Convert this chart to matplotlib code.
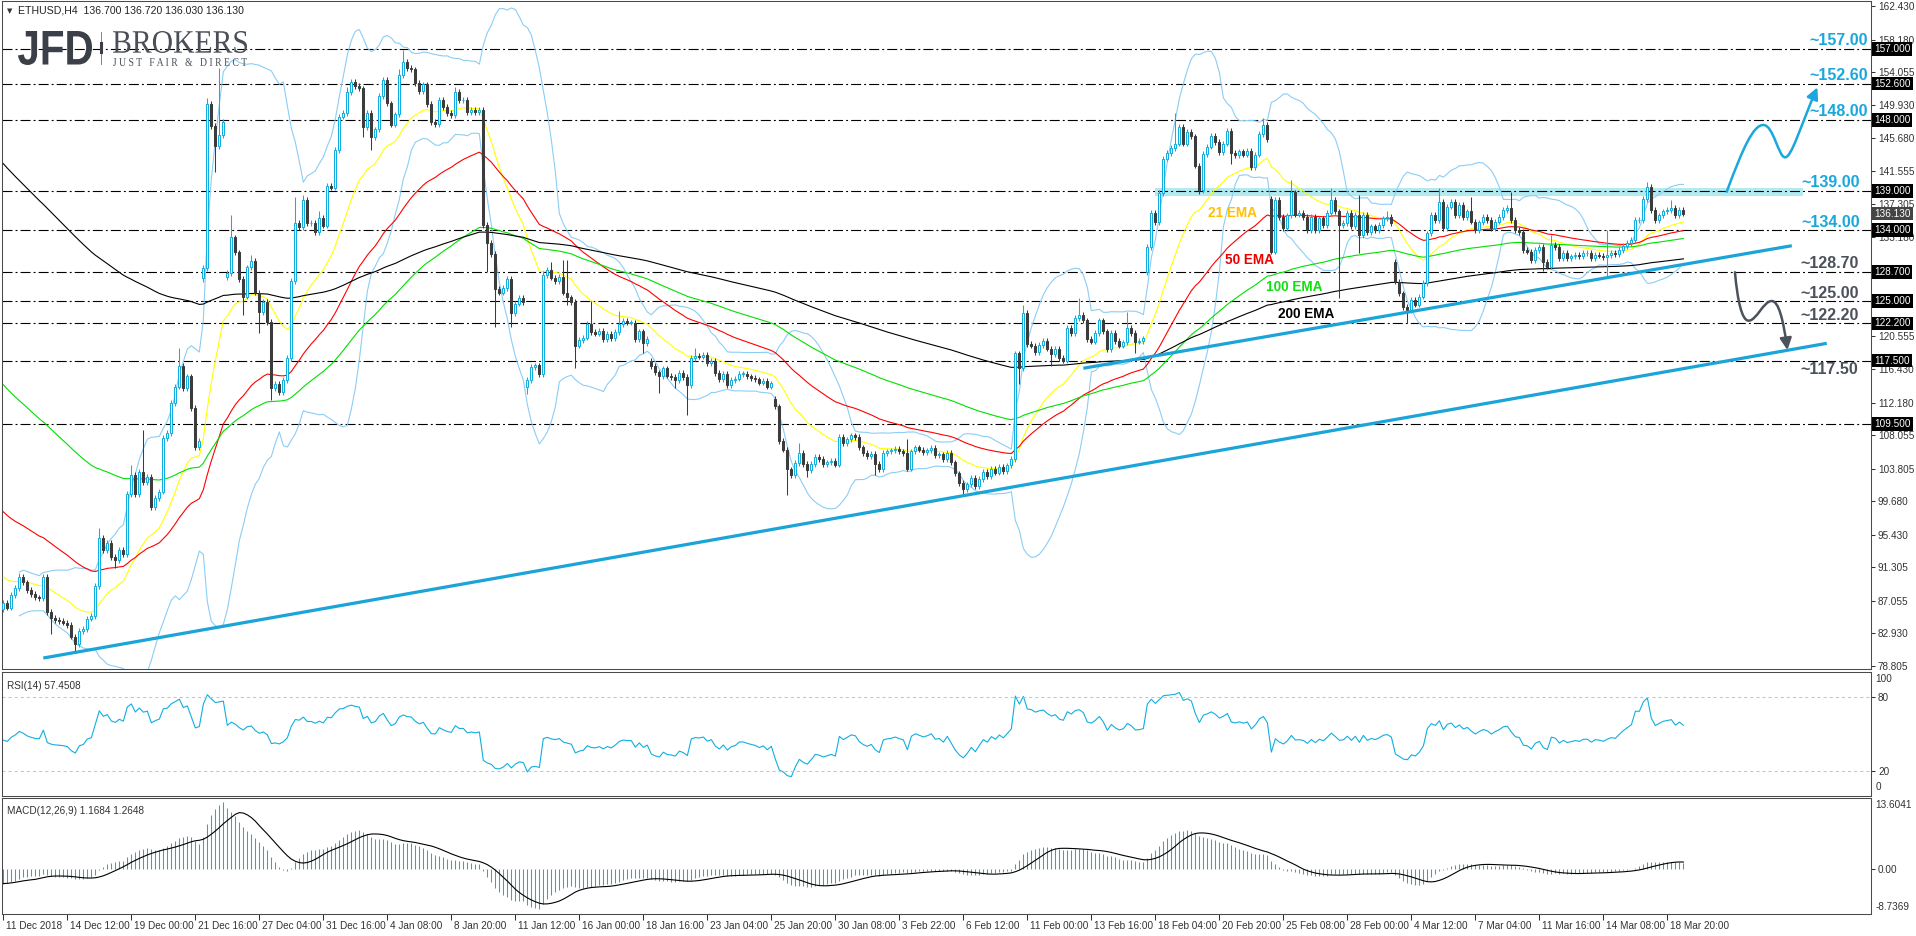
import numpy as np
import pandas as pd
import matplotlib
matplotlib.use("Agg")
import matplotlib.pyplot as plt
from matplotlib.path import Path
from matplotlib.patches import FancyArrowPatch, PathPatch
from matplotlib.textpath import TextPath
from matplotlib.font_manager import FontProperties
from matplotlib.transforms import Affine2D, ScaledTranslation
from matplotlib.lines import Line2D

W, H = 1916, 936

# ETHUSD H4 closes from left to right
closes = [
    86.8, 86.2, 87.8, 88.7, 90.1, 89.4, 88.4, 87.9, 87.5, 87.4,
    90.1, 85.6, 84.9, 84.6, 84.5, 84.3, 84.0, 82.5, 81.6, 83.2,
    83.5, 84.8, 85.1, 88.9, 95.0, 93.5, 94.4, 92.6, 92.2, 93.5,
    93.0, 100.6, 103.0, 100.6, 103.4, 102.1, 102.8, 98.9, 100.1, 100.9,
    107.7, 108.3, 112.1, 114.2, 116.8, 114.0, 115.5, 111.5, 106.5, 107.3,
    129.2, 150.0, 147.2, 144.7, 146.1, 147.7, 128.6, 133.1, 131.2, 127.8,
    125.6, 129.3, 130.1, 126.1, 123.6, 124.9, 122.4, 114.0, 114.5, 113.5,
    115.0, 117.8, 127.6, 134.9, 134.4, 137.9, 134.9, 134.9, 133.8, 135.6,
    134.6, 139.6, 139.4, 144.2, 148.4, 148.9, 151.5, 152.8, 152.3, 152.0,
    147.1, 148.9, 145.8, 146.8, 151.0, 153.1, 150.1, 147.4, 148.7, 153.7,
    155.3, 154.6, 154.4, 152.7, 151.6, 152.5, 150.0, 147.7, 147.5, 150.5,
    149.6, 148.9, 148.6, 151.5, 150.5, 150.5, 149.0, 149.3, 149.0, 149.3,
    134.7, 132.4, 131.0, 126.6, 126.1, 126.7, 127.8, 123.5, 124.7, 125.4,
    124.9, 115.0, 116.7, 116.9, 115.8, 128.3, 129.0, 128.0, 127.6, 128.1,
    126.1, 125.5, 124.9, 119.4, 120.1, 120.4, 122.1, 121.1, 120.9, 121.3,
    120.2, 120.9, 120.3, 121.1, 122.1, 122.5, 122.3, 122.3, 120.2, 121.2,
    119.7, 120.2, 116.8, 116.0, 115.5, 116.5, 115.6, 115.4, 115.0, 115.9,
    115.4, 114.4, 117.8, 118.1, 118.0, 118.2, 117.2, 117.5, 115.9, 115.1,
    115.8, 114.4, 115.0, 115.2, 115.8, 115.8, 115.5, 115.3, 115.1, 114.7,
    114.9, 114.2, 114.6, 111.7, 107.3, 106.2, 103.7, 103.0, 104.5, 105.8,
    104.4, 103.6, 104.4, 105.3, 105.0, 104.4, 104.6, 104.8, 104.3, 107.8,
    107.0, 107.5, 108.0, 107.8, 106.5, 105.8, 105.4, 105.7, 104.4, 103.7,
    105.8, 106.0, 106.1, 106.3, 106.0, 105.8, 103.8, 106.0, 106.5, 106.2,
    105.9, 106.1, 106.4, 105.5, 105.6, 105.0, 105.8, 104.6, 103.2, 102.0,
    101.2, 101.8, 102.6, 101.6, 102.5, 103.4, 102.9, 103.8, 103.3, 104.0,
    103.5, 104.2, 105.0, 118.4, 116.5, 123.5, 119.6, 119.4, 118.6, 119.5,
    120.0, 119.0, 118.3, 119.0, 117.8, 117.5, 121.6, 121.0, 122.9, 123.3,
    122.6, 120.2, 119.9, 121.0, 122.6, 121.2, 118.9, 121.0, 120.0, 119.4,
    119.8, 121.6, 121.0, 119.9, 120.0, 120.3, 131.9, 136.2, 135.0, 138.7,
    143.1, 143.8, 144.4, 145.0, 147.1, 145.0, 146.5, 145.9, 142.2, 139.1,
    143.7, 144.6, 146.0, 145.2, 143.9, 145.0, 146.6, 143.8, 143.5, 144.0,
    143.6, 144.1, 142.0, 143.6, 146.2, 147.4, 145.6, 131.3, 137.9, 135.7,
    134.3, 135.9, 138.8, 136.0, 136.2, 135.7, 134.05, 135.7, 134.05, 135.5,
    134.7, 136.2, 137.9, 136.4, 134.7, 134.9, 136.2, 134.5, 135.95, 133.4,
    135.95, 133.8, 134.5, 134.05, 134.7, 135.5, 135.7, 134.9, 127.5, 126.0,
    124.3, 123.9, 125.2, 124.6, 125.6, 127.3, 133.6, 135.95, 135.3, 137.6,
    134.3, 137.0, 137.6, 135.95, 137.2, 135.7, 136.4, 135.1, 134.05, 135.0,
    135.7, 135.3, 134.3, 135.1, 135.7, 136.6, 136.8, 135.3, 134.05, 133.8,
    131.5, 131.3, 130.25, 131.5, 131.9, 130.0, 129.4, 132.2, 131.9, 130.5,
    131.1, 130.5, 130.7, 130.9, 130.7, 131.1, 131.1, 130.5, 130.9, 130.8,
    130.6, 130.9, 131.1, 131.0, 131.5, 132.0, 132.4, 132.8, 135.3, 135.3,
    138.0, 139.5, 136.6, 135.3, 135.9, 136.4, 136.6, 136.8, 135.95, 136.6,
    136.13,
]
# bars whose open is not the previous close (weekend / holiday gaps)
gap_opens = {0: 86.0, 50: 128.0, 56: 128.1, 131: 114.2, 162: 117.5, 193: 112.6,
             286: 128.7, 317: 138.0, 348: 130.0}
# wick lengths beyond the body (price units); other bars have a short wick
wick_hi = {2: 0.4, 4: 0.5, 24: 1.3, 32: 1.3, 35: 5.3, 44: 2.3, 51: 0.8, 54: 8.5,
           57: 2.8, 62: 0.8, 73: 3.3, 75: 0.6, 79: 0.8, 86: 0.6, 99: 0.8, 100: 1.6,
           113: 0.6, 135: 0.6, 137: 1.0, 140: 2.2, 141: 4.1, 147: 2.9, 154: 1.7,
           173: 1.0, 199: 1.3, 226: 1.7, 255: 1.1, 269: 2.1, 281: 2.1, 293: 3.9,
           315: 0.8, 322: 1.6, 332: 1.4, 339: 2.5, 346: 0.7, 359: 1.7, 367: 1.8,
           377: 2.0, 387: 1.2, 401: 3.1, 411: 0.6, 417: 1.1}
wick_lo = {12: 2.1, 18: 1.1, 28: 1.0, 50: 0.5, 53: 3.3, 60: 2.3, 64: 2.6, 67: 1.5,
           90: 1.3, 92: 1.6, 121: 3.7, 123: 4.8, 127: 1.8, 131: 1.0, 141: 1.0,
           143: 2.9, 160: 1.3, 164: 2.1, 168: 1.0, 171: 3.8, 196: 3.2, 201: 0.8,
           218: 1.4, 240: 0.9, 254: 2.0, 262: 1.5, 283: 1.5, 299: 0.5, 307: 1.4,
           334: 9.3, 339: 2.3, 351: 1.7, 385: 1.2, 401: 2.5}
wick_short = 0.35

# indicator values at the left edge of the chart (history before the window)
ema_seeds = {21: 90.4, 50: 98.8, 100: 115.0, 200: 143.0}
macd_seeds = {12: 88.0, 26: 91.0}

levels = [157.0, 152.6, 148.0, 139.0, 134.0, 128.7, 125.0, 122.2, 117.5, 109.5]
cyan_notes = [157.0, 152.6, 148.0, 139.0, 134.0]
grey_notes = [128.7, 125.0, 122.2, 117.5]
last_price = 136.13

# price scale labels (the ones hidden behind the level boxes are left out)
price_ticks = [162.430, 158.180, 154.055, 149.930, 145.680, 141.555, 137.305,
               133.180, 120.555, 116.430, 112.180, 108.055,
               103.805, 99.680, 95.430, 91.305, 87.055, 82.930, 78.805]

date_labels = ["11 Dec 2018", "14 Dec 12:00", "19 Dec 00:00", "21 Dec 16:00",
               "27 Dec 04:00", "31 Dec 16:00", "4 Jan 08:00", "8 Jan 20:00",
               "11 Jan 12:00", "16 Jan 00:00", "18 Jan 16:00", "23 Jan 04:00",
               "25 Jan 20:00", "30 Jan 08:00", "3 Feb 22:00", "6 Feb 12:00",
               "11 Feb 00:00", "13 Feb 16:00", "18 Feb 04:00", "20 Feb 20:00",
               "25 Feb 08:00", "28 Feb 00:00", "4 Mar 12:00", "7 Mar 04:00",
               "11 Mar 16:00", "14 Mar 08:00", "18 Mar 20:00"]
bars_per_label = 16

CY = "#12aee0"
DK = "#3c3c3c"
NOTE_CY = "#1aa8dc"
NOTE_GR = "#4b525c"
TXT = "#333333"
FS = 7.2

plt.rcParams["font.family"] = ["Liberation Sans", "DejaVu Sans"]
plt.rcParams["lines.scale_dashes"] = False

# ---- data prep
c = np.array(closes, dtype=float)
n = len(c)
o = np.empty(n)
o[1:] = c[:-1]
for k, v in gap_opens.items():
    o[k] = v
hi = np.maximum(o, c) + np.array([wick_hi.get(i, wick_short) for i in range(n)])
lo = np.minimum(o, c) - np.array([wick_lo.get(i, wick_short) for i in range(n)])
x = np.arange(n)


def ema(vals, period, seed):
    a = 2.0 / (period + 1)
    out = []
    e = seed
    for v in vals:
        e = e + a * (v - e)
        out.append(e)
    return np.array(out)


s = pd.Series(c)
mid = s.rolling(20, min_periods=5).mean()
sd = s.rolling(20, min_periods=5).std(ddof=0)
bb_up = mid + 2 * sd
bb_lo = mid - 2 * sd

d = np.diff(c, prepend=c[0])
gain = np.clip(d, 0, None)
loss = np.clip(-d, 0, None)
ag = np.zeros(n)
al = np.zeros(n)
ag[0], al[0] = 0.9, 1.1
for i in range(1, n):
    ag[i] = (ag[i - 1] * 13 + gain[i]) / 14
    al[i] = (al[i - 1] * 13 + loss[i]) / 14
rsi = 100 - 100 / (1 + ag / al)

macd = ema(c, 12, macd_seeds[12]) - ema(c, 26, macd_seeds[26])
signal = pd.Series(macd).rolling(9, min_periods=1).mean().values

# ---- figure
fig = plt.figure(figsize=(W / 100, H / 100), dpi=100)
fig.patch.set_facecolor("white")


def px_axes(top, bottom):
    a = fig.add_axes([2 / W, 1 - bottom / H, 1869 / W, (bottom - top) / H])
    for sp in a.spines.values():
        sp.set_color("#4a4a4a")
        sp.set_linewidth(0.75)
    a.set_xlim(-0.33, 466.9)
    return a


ax = px_axes(1, 669)
ax_rsi = px_axes(672, 796)
ax_macd = px_axes(798, 914)

# horizontal levels
for lv in levels:
    ax.axhline(lv, color="black", lw=0.8, dashes=(7.2, 2.2, 1.4, 2.2), zorder=2)
ax.fill_between([287.9, 449.9], 138.35, 139.4, color="#b2eaf0", lw=0, zorder=1)

# indicators
ax.plot(x, bb_up, color="#8ccdf5", lw=0.8, zorder=3)
ax.plot(x, bb_lo, color="#8ccdf5", lw=0.8, zorder=3)
ema_cols = {21: "#ffff00", 50: "#ff0000", 100: "#00e000", 200: "#000000"}
for p, col in ema_cols.items():
    ax.plot(x, ema(c, p, ema_seeds[p]), color=col, lw=0.8, zorder=3)

# candles
bull = c >= o
ax.vlines(x[bull], lo[bull], hi[bull], color=CY, lw=0.75, zorder=4)
ax.vlines(x[~bull], lo[~bull], hi[~bull], color=DK, lw=0.75, zorder=4)
bot = np.minimum(o, c)
hgt = np.maximum(np.abs(c - o), 0.06)
ax.bar(x[bull], hgt[bull], bottom=bot[bull], width=0.55, facecolor="white",
       edgecolor=CY, linewidth=0.75, zorder=5)
ax.bar(x[~bull], hgt[~bull], bottom=bot[~bull], width=0.55, facecolor=DK,
       edgecolor=DK, linewidth=0.75, zorder=5)

# trend lines
ax.plot([10.0, 455.85], [79.80, 119.68], color="#1aa4d8", lw=2.3,
        solid_capstyle="butt", zorder=6)
ax.plot([270.0, 447.1], [116.52, 132.05], color="#1aa4d8", lw=2.3,
        solid_capstyle="butt", zorder=6)

# scenario arrows
up_path = Path([(430.84, 138.90), (435.0, 144.6), (437.5, 147.35), (440.0, 147.35),
                (442.5, 147.35), (443.8, 143.25), (445.4, 143.25),
                (447.1, 143.25), (449.2, 147.14), (453.5, 152.12)],
               [Path.MOVETO] + [Path.CURVE4] * 9)
dn_path = Path([(432.9, 128.68), (433.5, 125.17), (434.6, 122.55), (436.3, 122.55),
                (438.3, 122.55), (440.0, 125.04), (442.1, 125.04),
                (443.8, 125.04), (445.0, 122.63), (446.0, 118.83)],
               [Path.MOVETO] + [Path.CURVE4] * 9)
for pth, col in [(up_path, "#1aa8dc"), (dn_path, "#4b525c")]:
    ar = FancyArrowPatch(path=pth, arrowstyle="-|>,head_length=7,head_width=3.5",
                         mutation_scale=1, color=col, lw=1.8, shrinkA=0, shrinkB=0,
                         zorder=7)
    ax.add_patch(ar)

# level notes
for lv in cyan_notes:
    xx = 451.6 if lv > 140 else 449.4
    ax.text(xx, lv + 1.0, f"~{lv:.2f}", color=NOTE_CY, fontsize=11.5,
            fontweight="bold", ha="left", va="center", zorder=8)
for lv in grey_notes:
    dy = -1.2 if lv < 120 else 1.05
    ax.text(449.2, lv + dy, f"~{lv:.2f}", color=NOTE_GR, fontsize=11.5,
            fontweight="bold", ha="left", va="center", zorder=8)

# EMA names
ax.text(301.2, 136.16, "21 EMA", color="#ffc000", fontsize=9.8, fontweight="bold",
        ha="left", va="center", zorder=8)
ax.text(305.4, 130.24, "50 EMA", color="#ee0000", fontsize=9.8, fontweight="bold",
        ha="left", va="center", zorder=8)
ax.text(315.7, 126.86, "100 EMA", color="#10e010", fontsize=9.8, fontweight="bold",
        ha="left", va="center", zorder=8)
ax.text(318.7, 123.36, "200 EMA", color="black", fontsize=9.8, fontweight="bold",
        ha="left", va="center", zorder=8)

ax.set_ylim(78.41, 163.06)
ax.yaxis.tick_right()
ax.set_yticks(price_ticks)
ax.set_yticklabels([f"{t:.3f}" for t in price_ticks])
ax.tick_params(axis="y", length=3, width=0.75, pad=2, labelsize=FS, colors=TXT)
ax.tick_params(axis="x", bottom=False, labelbottom=False)

ytr = ax.get_yaxis_transform()
for lv in levels:
    ax.text(1.0017, lv, f"{lv:.3f}", transform=ytr, color="white", fontsize=FS,
            ha="left", va="center", clip_on=False, zorder=10,
            bbox=dict(facecolor="black", edgecolor="none", pad=1.4))
ax.text(1.0017, last_price, f"{last_price:.3f}", transform=ytr, color="white",
        fontsize=FS, ha="left", va="center", clip_on=False, zorder=10,
        bbox=dict(facecolor="#454545", edgecolor="none", pad=1.4))

# RSI panel
ax_rsi.plot(x, rsi, color=CY, lw=0.8)
for lv in (80, 20):
    ax_rsi.axhline(lv, color="#c4c4c4", lw=0.75, dashes=(2.2, 2.2))
ax_rsi.set_ylim(0, 100)
ax_rsi.yaxis.tick_right()
ax_rsi.set_yticks([80, 20])
ax_rsi.set_yticklabels(["80", "20"])
ax_rsi.tick_params(axis="y", length=3, width=0.75, pad=2, labelsize=FS, colors=TXT)
ax_rsi.tick_params(axis="x", bottom=False, labelbottom=False)
ax_rsi.text(1.0025, 0.985, "100", transform=ax_rsi.transAxes, fontsize=FS,
            color=TXT, ha="left", va="top", clip_on=False)
ax_rsi.text(1.0025, 0.03, "0", transform=ax_rsi.transAxes, fontsize=FS,
            color=TXT, ha="left", va="bottom", clip_on=False)
ax_rsi.text(0.0025, 0.93, "RSI(14) 57.4508",
            transform=ax_rsi.transAxes, fontsize=FS, color=TXT, ha="left", va="top")

# MACD panel
ax_macd.vlines(x, 0, macd, color=CY, lw=0.75)
ax_macd.plot(x, signal, color="black", lw=0.8)
ax_macd.set_ylim(-8.7369, 13.6041)
ax_macd.yaxis.tick_right()
ax_macd.set_yticks([0])
ax_macd.set_yticklabels(["0.00"])
ax_macd.tick_params(axis="y", length=3, width=0.75, pad=2, labelsize=FS, colors=TXT)
ax_macd.text(1.0025, 0.985, "13.6041", transform=ax_macd.transAxes, fontsize=FS,
             color=TXT, ha="left", va="top", clip_on=False)
ax_macd.text(1.0025, 0.02, "-8.7369", transform=ax_macd.transAxes, fontsize=FS,
             color=TXT, ha="left", va="bottom", clip_on=False)
ax_macd.text(0.0025, 0.93, "MACD(12,26,9) 1.1684 1.2648",
             transform=ax_macd.transAxes, fontsize=FS, color=TXT, ha="left", va="top")
date_pos = [i * bars_per_label for i in range(len(date_labels))]
ax_macd.set_xticks(date_pos)
ax_macd.set_xticklabels(date_labels)
ax_macd.tick_params(axis="x", length=4, width=0.75, pad=1, labelsize=FS, colors=TXT)
shift = ScaledTranslation(2 / 72, 0, fig.dpi_scale_trans)
for lab in ax_macd.get_xticklabels():
    lab.set_horizontalalignment("left")
    lab.set_transform(lab.get_transform() + shift)

# header and logo
fig.text(7 / W, 1 - 10.7 / H, "\u25bc", fontsize=5, color="#333333", va="center",
         family="DejaVu Sans")
fig.text(18 / W, 1 - 10.7 / H, "ETHUSD,H4  136.700 136.720 136.030 136.130",
         fontsize=7.6, color="#222222", va="center")


def logo_text(s, x0, x1, y_top, y_bot, family, weight, color):
    tp = TextPath((0, 0), s, size=100, prop=FontProperties(family=family, weight=weight))
    ext = tp.get_extents()
    sx = (x1 - x0) / ext.width / W
    sy = (y_bot - y_top) / ext.height / H
    tr = Affine2D().translate(-ext.x0, -ext.y0).scale(sx, sy).translate(x0 / W, 1 - y_bot / H)
    fig.add_artist(PathPatch(tr.transform_path(tp), transform=fig.transFigure,
                             facecolor=color, edgecolor="none"))


logo_text("JFD", 18, 92, 31, 65, "Liberation Sans", "bold", "#3b4048")
logo_text("BROKERS", 113, 247, 31, 53, "Liberation Serif", "normal", "#4a4f57")
logo_text("J U S T   F A I R   &   D I R E C T", 113, 247, 58, 66,
          "Liberation Serif", "normal", "#4a4f57")
fig.add_artist(Line2D([101 / W, 101 / W], [1 - 32 / H, 1 - 64 / H],
                      transform=fig.transFigure, color="#6a6e75", lw=0.6))
fig.add_artist(Line2D([101 / W, 101 / W], [1 - 43 / H, 1 - 52 / H],
                      transform=fig.transFigure, color="#3b4048", lw=2.2))

fig.savefig("out.png", dpi=100)
